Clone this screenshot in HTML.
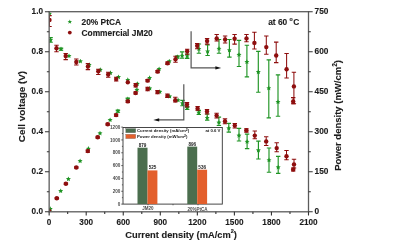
<!DOCTYPE html>
<html><head><meta charset="utf-8"><style>
html,body{margin:0;padding:0;background:#fff;width:393px;height:247px;overflow:hidden}
text{fill:#1c1c1c;stroke:#1c1c1c;stroke-width:0.12px}
text.sm{fill:#4a4a4a;stroke:none}
text.sd{fill:#1a1a1a;stroke:none}
</style></head><body>
<svg width="393" height="247" viewBox="0 0 393 247" style="position:absolute;left:0;top:0;will-change:transform"><defs><clipPath id="pc"><rect x="49.15" y="11.7" width="259.35" height="200.10000000000002"/></clipPath></defs><g clip-path="url(#pc)"><g stroke="#1f9424" stroke-width="1.15" fill="none"><path d="M48.40 37.60H52.80M50.60 37.60V42.20M48.40 42.20H52.80"/><path d="M58.80 48.00H63.20M61.00 48.00V50.20M58.80 50.20H63.20"/><path d="M180.30 100.30H184.70M182.50 100.30V105.70M180.30 105.70H184.70"/><path d="M185.00 106.50H189.40M187.20 106.50V109.50M185.00 109.50H189.40"/><path d="M196.60 110.30H201.00M198.80 110.30V114.50M196.60 114.50H201.00"/><path d="M205.00 114.00H209.40M207.20 114.00V120.20M205.00 120.20H209.40"/><path d="M216.70 117.10H221.10M218.90 117.10V125.50M216.70 125.50H221.10"/><path d="M226.60 123.40H231.00M228.80 123.40V132.10M226.60 132.10H231.00"/><path d="M236.80 128.40H241.20M239.00 128.40V141.00M236.80 141.00H241.20"/><path d="M244.90 134.10H249.30M247.10 134.10V148.60M244.90 148.60H249.30"/><path d="M256.20 141.10H260.60M258.40 141.10V159.00M256.20 159.00H260.60"/><path d="M266.80 148.00H271.20M269.00 148.00V172.20M266.80 172.20H271.20"/><path d="M276.00 156.40H280.40M278.20 156.40V173.30M276.00 173.30H280.40"/><path d="M115.70 110.00H120.10M117.90 110.00V112.20M115.70 112.20H120.10"/><path d="M125.60 98.00H130.00M127.80 98.00V100.20M125.60 100.20H130.00"/><path d="M175.30 55.80H179.70M177.50 55.80V58.00M175.30 58.00H179.70"/><path d="M179.90 51.90H184.30M182.10 51.90V58.20M179.90 58.20H184.30"/><path d="M185.00 54.00H189.40M187.20 54.00V58.40M185.00 58.40H189.40"/><path d="M196.70 44.00H201.10M198.90 44.00V53.20M196.70 53.20H201.10"/><path d="M205.40 44.80H209.80M207.60 44.80V55.50M205.40 55.50H209.80"/><path d="M216.80 39.50H221.20M219.00 39.50V53.20M216.80 53.20H221.20"/><path d="M227.20 39.50H231.60M229.40 39.50V57.10M227.20 57.10H231.60"/><path d="M236.80 40.30H241.20M239.00 40.30V66.50M236.80 66.50H241.20"/><path d="M244.70 45.20H249.10M246.90 45.20V76.80M244.70 76.80H249.10"/><path d="M256.10 51.30H260.50M258.30 51.30V92.20M256.10 92.20H260.50"/><path d="M266.60 59.90H271.00M268.80 59.90V117.90M266.60 117.90H271.00"/><path d="M275.80 74.80H280.20M278.00 74.80V116.20M275.80 116.20H280.20"/></g><g fill="#1f9424"><polygon points="49.50,11.10 50.23,12.69 51.97,12.90 50.69,14.09 51.03,15.80 49.50,14.95 47.97,15.80 48.31,14.09 47.03,12.90 48.77,12.69"/><polygon points="50.60,37.30 51.33,38.89 53.07,39.10 51.79,40.29 52.13,42.00 50.60,41.15 49.07,42.00 49.41,40.29 48.13,39.10 49.87,38.89"/><polygon points="61.00,46.50 61.73,48.09 63.47,48.30 62.19,49.49 62.53,51.20 61.00,50.35 59.47,51.20 59.81,49.49 58.53,48.30 60.27,48.09"/><polygon points="69.00,53.40 69.73,54.99 71.47,55.20 70.19,56.39 70.53,58.10 69.00,57.25 67.47,58.10 67.81,56.39 66.53,55.20 68.27,54.99"/><polygon points="80.40,58.70 81.13,60.29 82.87,60.50 81.59,61.69 81.93,63.40 80.40,62.55 78.87,63.40 79.21,61.69 77.93,60.50 79.67,60.29"/><polygon points="89.20,62.30 89.93,63.89 91.67,64.10 90.39,65.29 90.73,67.00 89.20,66.15 87.67,67.00 88.01,65.29 86.73,64.10 88.47,63.89"/><polygon points="100.30,67.20 101.03,68.79 102.77,69.00 101.49,70.19 101.83,71.90 100.30,71.05 98.77,71.90 99.11,70.19 97.83,69.00 99.57,68.79"/><polygon points="110.50,70.30 111.23,71.89 112.97,72.10 111.69,73.29 112.03,75.00 110.50,74.15 108.97,75.00 109.31,73.29 108.03,72.10 109.77,71.89"/><polygon points="118.50,74.50 119.23,76.09 120.97,76.30 119.69,77.49 120.03,79.20 118.50,78.35 116.97,79.20 117.31,77.49 116.03,76.30 117.77,76.09"/><polygon points="127.80,77.30 128.53,78.89 130.27,79.10 128.99,80.29 129.33,82.00 127.80,81.15 126.27,82.00 126.61,80.29 125.33,79.10 127.07,78.89"/><polygon points="137.30,81.20 138.03,82.79 139.77,83.00 138.49,84.19 138.83,85.90 137.30,85.05 135.77,85.90 136.11,84.19 134.83,83.00 136.57,82.79"/><polygon points="149.80,85.80 150.53,87.39 152.27,87.60 150.99,88.79 151.33,90.50 149.80,89.65 148.27,90.50 148.61,88.79 147.33,87.60 149.07,87.39"/><polygon points="159.80,89.20 160.53,90.79 162.27,91.00 160.99,92.19 161.33,93.90 159.80,93.05 158.27,93.90 158.61,92.19 157.33,91.00 159.07,90.79"/><polygon points="169.70,93.80 170.43,95.39 172.17,95.60 170.89,96.79 171.23,98.50 169.70,97.65 168.17,98.50 168.51,96.79 167.23,95.60 168.97,95.39"/><polygon points="178.10,97.60 178.83,99.19 180.57,99.40 179.29,100.59 179.63,102.30 178.10,101.45 176.57,102.30 176.91,100.59 175.63,99.40 177.37,99.19"/><polygon points="182.50,100.70 183.23,102.29 184.97,102.50 183.69,103.69 184.03,105.40 182.50,104.55 180.97,105.40 181.31,103.69 180.03,102.50 181.77,102.29"/><polygon points="187.20,105.40 187.93,106.99 189.67,107.20 188.39,108.39 188.73,110.10 187.20,109.25 185.67,110.10 186.01,108.39 184.73,107.20 186.47,106.99"/><polygon points="198.80,110.00 199.53,111.59 201.27,111.80 199.99,112.99 200.33,114.70 198.80,113.85 197.27,114.70 197.61,112.99 196.33,111.80 198.07,111.59"/><polygon points="207.20,115.30 207.93,116.89 209.67,117.10 208.39,118.29 208.73,120.00 207.20,119.15 205.67,120.00 206.01,118.29 204.73,117.10 206.47,116.89"/><polygon points="218.90,119.90 219.63,121.49 221.37,121.70 220.09,122.89 220.43,124.60 218.90,123.75 217.37,124.60 217.71,122.89 216.43,121.70 218.17,121.49"/><polygon points="228.80,125.70 229.53,127.29 231.27,127.50 229.99,128.69 230.33,130.40 228.80,129.55 227.27,130.40 227.61,128.69 226.33,127.50 228.07,127.29"/><polygon points="239.00,133.00 239.73,134.59 241.47,134.80 240.19,135.99 240.53,137.70 239.00,136.85 237.47,137.70 237.81,135.99 236.53,134.80 238.27,134.59"/><polygon points="247.10,139.10 247.83,140.69 249.57,140.90 248.29,142.09 248.63,143.80 247.10,142.95 245.57,143.80 245.91,142.09 244.63,140.90 246.37,140.69"/><polygon points="258.40,147.70 259.13,149.29 260.87,149.50 259.59,150.69 259.93,152.40 258.40,151.55 256.87,152.40 257.21,150.69 255.93,149.50 257.67,149.29"/><polygon points="269.00,157.60 269.73,159.19 271.47,159.40 270.19,160.59 270.53,162.30 269.00,161.45 267.47,162.30 267.81,160.59 266.53,159.40 268.27,159.19"/><polygon points="278.20,164.70 278.93,166.29 280.67,166.50 279.39,167.69 279.73,169.40 278.20,168.55 276.67,169.40 277.01,167.69 275.73,166.50 277.47,166.29"/><polygon points="50.30,206.30 51.03,207.89 52.77,208.10 51.49,209.29 51.83,211.00 50.30,210.15 48.77,211.00 49.11,209.29 47.83,208.10 49.57,207.89"/><polygon points="60.70,188.40 61.43,189.99 63.17,190.20 61.89,191.39 62.23,193.10 60.70,192.25 59.17,193.10 59.51,191.39 58.23,190.20 59.97,189.99"/><polygon points="68.40,176.50 69.13,178.09 70.87,178.30 69.59,179.49 69.93,181.20 68.40,180.35 66.87,181.20 67.21,179.49 65.93,178.30 67.67,178.09"/><polygon points="80.10,158.50 80.83,160.09 82.57,160.30 81.29,161.49 81.63,163.20 80.10,162.35 78.57,163.20 78.91,161.49 77.63,160.30 79.37,160.09"/><polygon points="88.40,146.10 89.13,147.69 90.87,147.90 89.59,149.09 89.93,150.80 88.40,149.95 86.87,150.80 87.21,149.09 85.93,147.90 87.67,147.69"/><polygon points="100.00,130.70 100.73,132.29 102.47,132.50 101.19,133.69 101.53,135.40 100.00,134.55 98.47,135.40 98.81,133.69 97.53,132.50 99.27,132.29"/><polygon points="110.10,117.40 110.83,118.99 112.57,119.20 111.29,120.39 111.63,122.10 110.10,121.25 108.57,122.10 108.91,120.39 107.63,119.20 109.37,118.99"/><polygon points="117.90,108.50 118.63,110.09 120.37,110.30 119.09,111.49 119.43,113.20 117.90,112.35 116.37,113.20 116.71,111.49 115.43,110.30 117.17,110.09"/><polygon points="127.80,96.50 128.53,98.09 130.27,98.30 128.99,99.49 129.33,101.20 127.80,100.35 126.27,101.20 126.61,99.49 125.33,98.30 127.07,98.09"/><polygon points="136.90,87.20 137.63,88.79 139.37,89.00 138.09,90.19 138.43,91.90 136.90,91.05 135.37,91.90 135.71,90.19 134.43,89.00 136.17,88.79"/><polygon points="149.60,75.30 150.33,76.89 152.07,77.10 150.79,78.29 151.13,80.00 149.60,79.15 148.07,80.00 148.41,78.29 147.13,77.10 148.87,76.89"/><polygon points="159.10,66.50 159.83,68.09 161.57,68.30 160.29,69.49 160.63,71.20 159.10,70.35 157.57,71.20 157.91,69.49 156.63,68.30 158.37,68.09"/><polygon points="169.30,58.70 170.03,60.29 171.77,60.50 170.49,61.69 170.83,63.40 169.30,62.55 167.77,63.40 168.11,61.69 166.83,60.50 168.57,60.29"/><polygon points="177.50,54.30 178.23,55.89 179.97,56.10 178.69,57.29 179.03,59.00 177.50,58.15 175.97,59.00 176.31,57.29 175.03,56.10 176.77,55.89"/><polygon points="182.10,53.10 182.83,54.69 184.57,54.90 183.29,56.09 183.63,57.80 182.10,56.95 180.57,57.80 180.91,56.09 179.63,54.90 181.37,54.69"/><polygon points="187.20,53.60 187.93,55.19 189.67,55.40 188.39,56.59 188.73,58.30 187.20,57.45 185.67,58.30 186.01,56.59 184.73,55.40 186.47,55.19"/><polygon points="198.90,46.30 199.63,47.89 201.37,48.10 200.09,49.29 200.43,51.00 198.90,50.15 197.37,51.00 197.71,49.29 196.43,48.10 198.17,47.89"/><polygon points="207.60,48.80 208.33,50.39 210.07,50.60 208.79,51.79 209.13,53.50 207.60,52.65 206.07,53.50 206.41,51.79 205.13,50.60 206.87,50.39"/><polygon points="219.00,46.10 219.73,47.69 221.47,47.90 220.19,49.09 220.53,50.80 219.00,49.95 217.47,50.80 217.81,49.09 216.53,47.90 218.27,47.69"/><polygon points="229.40,47.60 230.13,49.19 231.87,49.40 230.59,50.59 230.93,52.30 229.40,51.45 227.87,52.30 228.21,50.59 226.93,49.40 228.67,49.19"/><polygon points="239.00,52.20 239.73,53.79 241.47,54.00 240.19,55.19 240.53,56.90 239.00,56.05 237.47,56.90 237.81,55.19 236.53,54.00 238.27,53.79"/><polygon points="246.90,59.30 247.63,60.89 249.37,61.10 248.09,62.29 248.43,64.00 246.90,63.15 245.37,64.00 245.71,62.29 244.43,61.10 246.17,60.89"/><polygon points="258.30,69.50 259.03,71.09 260.77,71.30 259.49,72.49 259.83,74.20 258.30,73.35 256.77,74.20 257.11,72.49 255.83,71.30 257.57,71.09"/><polygon points="268.80,85.60 269.53,87.19 271.27,87.40 269.99,88.59 270.33,90.30 268.80,89.45 267.27,90.30 267.61,88.59 266.33,87.40 268.07,87.19"/><polygon points="278.00,99.40 278.73,100.99 280.47,101.20 279.19,102.39 279.53,104.10 278.00,103.25 276.47,104.10 276.81,102.39 275.53,101.20 277.27,100.99"/></g><g stroke="#8e0e0e" stroke-width="1.05" fill="none"><path d="M47.30 15.60H51.70M49.50 15.60V26.40M47.30 26.40H51.70"/><path d="M54.30 45.30H58.70M56.50 45.30V51.80M54.30 51.80H58.70"/><path d="M63.50 53.50H67.90M65.70 53.50V59.60M63.50 59.60H67.90"/><path d="M74.10 59.00H78.50M76.30 59.00V65.00M74.10 65.00H78.50"/><path d="M85.70 63.60H90.10M87.90 63.60V69.60M85.70 69.60H90.10"/><path d="M96.10 69.30H100.50M98.30 69.30V74.50M96.10 74.50H100.50"/><path d="M106.00 72.30H110.40M108.20 72.30V77.30M106.00 77.30H110.40"/><path d="M114.00 77.30H118.40M116.20 77.30V80.90M114.00 80.90H118.40"/><path d="M133.50 83.50H137.90M135.70 83.50V87.00M133.50 87.00H137.90"/><path d="M145.40 87.30H149.80M147.60 87.30V90.80M145.40 90.80H149.80"/><path d="M155.30 90.50H159.70M157.50 90.50V93.70M155.30 93.70H159.70"/><path d="M165.20 94.00H169.60M167.40 94.00V97.50M165.20 97.50H169.60"/><path d="M173.10 97.30H177.50M175.30 97.30V102.00M173.10 102.00H177.50"/><path d="M184.80 102.60H189.20M187.00 102.60V107.00M184.80 107.00H189.20"/><path d="M195.40 106.50H199.80M197.60 106.50V110.30M195.40 110.30H199.80"/><path d="M204.80 109.50H209.20M207.00 109.50V114.00M204.80 114.00H209.20"/><path d="M214.40 113.30H218.80M216.60 113.30V117.90M214.40 117.90H218.80"/><path d="M222.80 118.70H227.20M225.00 118.70V123.70M222.80 123.70H227.20"/><path d="M232.60 123.40H237.00M234.80 123.40V128.00M232.60 128.00H237.00"/><path d="M244.20 128.70H248.60M246.40 128.70V132.10M244.20 132.10H248.60"/><path d="M252.60 131.00H257.00M254.80 131.00V138.70M252.60 138.70H257.00"/><path d="M264.00 136.80H268.40M266.20 136.80V145.40M264.00 145.40H268.40"/><path d="M274.50 142.80H278.90M276.70 142.80V151.70M274.50 151.70H278.90"/><path d="M284.30 150.50H288.70M286.50 150.50V159.80M284.30 159.80H288.70"/><path d="M291.80 159.20H296.20M294.00 159.20V168.00M291.80 168.00H296.20"/><path d="M291.00 168.00H295.40M293.20 168.00V171.00M291.00 171.00H295.40"/><path d="M54.60 197.50H59.00M56.80 197.50V199.00M54.60 199.00H59.00"/><path d="M63.70 183.00H68.10M65.90 183.00V184.50M63.70 184.50H68.10"/><path d="M74.10 166.70H78.50M76.30 166.70V168.30M74.10 168.30H78.50"/><path d="M85.60 150.00H90.00M87.80 150.00V152.20M85.60 152.20H90.00"/><path d="M95.50 136.30H99.90M97.70 136.30V138.30M95.50 138.30H99.90"/><path d="M105.50 123.20H109.90M107.70 123.20V125.20M105.50 125.20H109.90"/><path d="M113.90 114.00H118.30M116.10 114.00V116.20M113.90 116.20H118.30"/><path d="M125.60 100.30H130.00M127.80 100.30V102.50M125.60 102.50H130.00"/><path d="M133.40 92.00H137.80M135.60 92.00V94.00M133.40 94.00H137.80"/><path d="M145.40 79.50H149.80M147.60 79.50V81.70M145.40 81.70H149.80"/><path d="M155.40 70.40H159.80M157.60 70.40V72.60M155.40 72.60H159.80"/><path d="M165.30 62.00H169.70M167.50 62.00V64.40M165.30 64.40H169.70"/><path d="M173.30 56.20H177.70M175.50 56.20V62.30M173.30 62.30H177.70"/><path d="M185.00 49.30H189.40M187.20 49.30V54.20M185.00 54.20H189.40"/><path d="M195.00 43.40H199.40M197.20 43.40V48.80M195.00 48.80H199.40"/><path d="M204.90 38.40H209.30M207.10 38.40V44.10M204.90 44.10H209.30"/><path d="M214.50 34.50H218.90M216.70 34.50V41.00M214.50 41.00H218.90"/><path d="M222.90 36.00H227.30M225.10 36.00V43.00M222.90 43.00H227.30"/><path d="M232.40 34.50H236.80M234.60 34.50V44.10M232.40 44.10H236.80"/><path d="M244.30 34.50H248.70M246.50 34.50V41.80M244.30 41.80H248.70"/><path d="M252.20 32.30H256.60M254.40 32.30V49.00M252.20 49.00H256.60"/><path d="M264.10 36.00H268.50M266.30 36.00V54.30M264.10 54.30H268.50"/><path d="M274.00 42.10H278.40M276.20 42.10V62.60M274.00 62.60H278.40"/><path d="M284.40 53.50H288.80M286.60 53.50V77.90M284.40 77.90H288.80"/><path d="M291.70 72.30H296.10M293.90 72.30V103.70M291.70 103.70H296.10"/><path d="M291.00 97.60H295.40M293.20 97.60V103.80M291.00 103.80H295.40"/></g><g fill="#8e0e0e"><circle cx="49.5" cy="20" r="2.2"/><circle cx="56.5" cy="48.3" r="2.2"/><circle cx="65.7" cy="56.0" r="2.2"/><circle cx="76.3" cy="62" r="2.2"/><circle cx="87.9" cy="66.5" r="2.2"/><circle cx="98.3" cy="71.3" r="2.2"/><circle cx="108.2" cy="74.5" r="2.2"/><circle cx="116.2" cy="79.1" r="2.2"/><circle cx="127.8" cy="82.2" r="2.2"/><circle cx="135.7" cy="85.3" r="2.2"/><circle cx="147.6" cy="89" r="2.2"/><circle cx="157.5" cy="92.1" r="2.2"/><circle cx="167.4" cy="95.9" r="2.2"/><circle cx="175.3" cy="100.2" r="2.2"/><circle cx="187" cy="104.6" r="2.2"/><circle cx="197.6" cy="108.4" r="2.2"/><circle cx="207" cy="111.5" r="2.2"/><circle cx="216.6" cy="115.6" r="2.2"/><circle cx="225" cy="121.3" r="2.2"/><circle cx="234.8" cy="125.6" r="2.2"/><circle cx="246.4" cy="130.3" r="2.2"/><circle cx="254.8" cy="135.6" r="2.2"/><circle cx="266.2" cy="141.4" r="2.2"/><circle cx="276.7" cy="148.1" r="2.2"/><circle cx="286.5" cy="156.3" r="2.2"/><circle cx="294.0" cy="164.4" r="2.2"/><circle cx="293.2" cy="169.6" r="2.2"/><circle cx="49.3" cy="211.2" r="2.2"/><circle cx="56.8" cy="198.2" r="2.2"/><circle cx="65.9" cy="183.7" r="2.2"/><circle cx="76.3" cy="167.5" r="2.2"/><circle cx="87.8" cy="151.1" r="2.2"/><circle cx="97.7" cy="137.3" r="2.2"/><circle cx="107.7" cy="124.2" r="2.2"/><circle cx="116.1" cy="115.1" r="2.2"/><circle cx="127.8" cy="101.4" r="2.2"/><circle cx="135.6" cy="93" r="2.2"/><circle cx="147.6" cy="80.6" r="2.2"/><circle cx="157.6" cy="71.5" r="2.2"/><circle cx="167.5" cy="63.2" r="2.2"/><circle cx="175.5" cy="59.2" r="2.2"/><circle cx="187.2" cy="51.3" r="2.2"/><circle cx="197.2" cy="45.8" r="2.2"/><circle cx="207.1" cy="41" r="2.2"/><circle cx="216.7" cy="38.4" r="2.2"/><circle cx="225.1" cy="39.5" r="2.2"/><circle cx="234.6" cy="38.7" r="2.2"/><circle cx="246.5" cy="38.4" r="2.2"/><circle cx="254.4" cy="42.9" r="2.2"/><circle cx="266.3" cy="47.1" r="2.2"/><circle cx="276.2" cy="55.5" r="2.2"/><circle cx="286.6" cy="69.2" r="2.2"/><circle cx="293.9" cy="86.4" r="2.2"/><circle cx="293.2" cy="101.5" r="2.2"/></g></g><rect x="49.15" y="11.7" width="259.35" height="200.10000000000002" fill="none" stroke="#5c5c5c" stroke-width="1.3"/><path d="M49.15 211.8v3.6M67.67 211.8v2.2M86.20 211.8v3.6M104.73 211.8v2.2M123.25 211.8v3.6M141.78 211.8v2.2M160.30 211.8v3.6M178.83 211.8v2.2M197.35 211.8v3.6M215.88 211.8v2.2M234.40 211.8v3.6M252.93 211.8v2.2M271.45 211.8v3.6M289.98 211.8v2.2M308.50 211.8v3.6M49.15 211.80h-4.2M308.5 211.80h4.2M49.15 191.79h-2.3M308.5 191.79h2.3M49.15 171.78h-4.2M308.5 171.78h4.2M49.15 151.77h-2.3M308.5 151.77h2.3M49.15 131.76h-4.2M308.5 131.76h4.2M49.15 111.75h-2.3M308.5 111.75h2.3M49.15 91.74h-4.2M308.5 91.74h4.2M49.15 71.73h-2.3M308.5 71.73h2.3M49.15 51.72h-4.2M308.5 51.72h4.2M49.15 31.71h-2.3M308.5 31.71h2.3M49.15 11.70h-4.2M308.5 11.70h4.2" stroke="#333" stroke-width="1.1" fill="none"/><path d="M191.1 31.2V67.9H216" stroke="#555" stroke-width="1.2" fill="none"/><path d="M221.2 67.9L215.4 66.2V69.6Z" fill="#111"/><path d="M183.8 84.2V119.9H159" stroke="#555" stroke-width="1.2" fill="none"/><path d="M153.3 119.9L159.2 118.2V121.6Z" fill="#111"/><text x="49.15" y="224.6" font-family="&apos;Liberation Sans&apos;, sans-serif" font-weight="bold" font-size="8.2" text-anchor="middle">0</text><text x="86.20" y="224.6" font-family="&apos;Liberation Sans&apos;, sans-serif" font-weight="bold" font-size="8.2" text-anchor="middle">300</text><text x="123.25" y="224.6" font-family="&apos;Liberation Sans&apos;, sans-serif" font-weight="bold" font-size="8.2" text-anchor="middle">600</text><text x="160.30" y="224.6" font-family="&apos;Liberation Sans&apos;, sans-serif" font-weight="bold" font-size="8.2" text-anchor="middle">900</text><text x="197.35" y="224.6" font-family="&apos;Liberation Sans&apos;, sans-serif" font-weight="bold" font-size="8.2" text-anchor="middle">1200</text><text x="234.40" y="224.6" font-family="&apos;Liberation Sans&apos;, sans-serif" font-weight="bold" font-size="8.2" text-anchor="middle">1500</text><text x="271.45" y="224.6" font-family="&apos;Liberation Sans&apos;, sans-serif" font-weight="bold" font-size="8.2" text-anchor="middle">1800</text><text x="308.50" y="224.6" font-family="&apos;Liberation Sans&apos;, sans-serif" font-weight="bold" font-size="8.2" text-anchor="middle">2100</text><text x="43" y="214.00" font-family="&apos;Liberation Sans&apos;, sans-serif" font-weight="bold" font-size="8.2" text-anchor="end">0.0</text><text x="43" y="173.98" font-family="&apos;Liberation Sans&apos;, sans-serif" font-weight="bold" font-size="8.2" text-anchor="end">0.2</text><text x="43" y="133.96" font-family="&apos;Liberation Sans&apos;, sans-serif" font-weight="bold" font-size="8.2" text-anchor="end">0.4</text><text x="43" y="93.94" font-family="&apos;Liberation Sans&apos;, sans-serif" font-weight="bold" font-size="8.2" text-anchor="end">0.6</text><text x="43" y="53.92" font-family="&apos;Liberation Sans&apos;, sans-serif" font-weight="bold" font-size="8.2" text-anchor="end">0.8</text><text x="43" y="13.90" font-family="&apos;Liberation Sans&apos;, sans-serif" font-weight="bold" font-size="8.2" text-anchor="end">1.0</text><text x="314.6" y="214.40" font-family="&apos;Liberation Sans&apos;, sans-serif" font-weight="bold" font-size="8.3">0</text><text x="314.6" y="174.38" font-family="&apos;Liberation Sans&apos;, sans-serif" font-weight="bold" font-size="8.3">150</text><text x="314.6" y="134.36" font-family="&apos;Liberation Sans&apos;, sans-serif" font-weight="bold" font-size="8.3">300</text><text x="314.6" y="94.34" font-family="&apos;Liberation Sans&apos;, sans-serif" font-weight="bold" font-size="8.3">450</text><text x="314.6" y="54.32" font-family="&apos;Liberation Sans&apos;, sans-serif" font-weight="bold" font-size="8.3">600</text><text x="314.6" y="14.30" font-family="&apos;Liberation Sans&apos;, sans-serif" font-weight="bold" font-size="8.3">750</text><text x="181.1" y="237.8" font-family="&apos;Liberation Sans&apos;, sans-serif" font-weight="bold" font-size="9.3" text-anchor="middle">Current density (mA/cm<tspan dy="-4.9" font-size="5.5">2</tspan><tspan dy="4.9">)</tspan></text><text transform="translate(24.9 106.5) rotate(-90)" font-family="&apos;Liberation Sans&apos;, sans-serif" font-weight="bold" font-size="9.9" text-anchor="middle">Cell voltage (V)</text><text transform="translate(340.6 115.4) rotate(-90)" font-family="&apos;Liberation Sans&apos;, sans-serif" font-weight="bold" font-size="9.5" text-anchor="middle">Power density (mW/cm<tspan dy="-4" font-size="6.5">2</tspan><tspan dy="4">)</tspan></text><g fill="#1f9424"><polygon points="69.80,19.40 70.39,20.99 72.08,21.06 70.75,22.11 71.21,23.74 69.80,22.80 68.39,23.74 68.85,22.11 67.52,21.06 69.21,20.99"/></g><circle cx="69.8" cy="32.6" r="1.9" fill="#8e0e0e"/><text x="81.5" y="24.9" font-family="&apos;Liberation Sans&apos;, sans-serif" font-weight="bold" font-size="8.4">20% PtCA</text><text x="81.5" y="35.6" font-family="&apos;Liberation Sans&apos;, sans-serif" font-weight="bold" font-size="8.4">Commercial JM20</text><text x="268.2" y="25.3" font-family="&apos;Liberation Sans&apos;, sans-serif" font-weight="bold" font-size="8.4">at 60 <tspan dy="-4.6" font-size="5.2">o</tspan><tspan dy="4.6" dx="0.4">C</tspan></text><rect x="123.0" y="127.5" width="99.30000000000001" height="76.6" fill="#fff" stroke="#333" stroke-width="0.9"/><rect x="137.5" y="147.70" width="10.0" height="56.40" fill="#4b6e4e"/><rect x="147.5" y="170.41" width="9.9" height="33.69" fill="#e35f2c"/><text x="142.50" y="146.70" font-family="&apos;Liberation Sans&apos;, sans-serif" font-weight="bold" font-size="4.6" class="sd" text-anchor="middle">879</text><text x="152.50" y="169.41" font-family="&apos;Liberation Sans&apos;, sans-serif" font-weight="bold" font-size="4.6" class="sd" text-anchor="middle">525</text><rect x="187.3" y="146.61" width="9.899999999999977" height="57.49" fill="#4b6e4e"/><rect x="197.2" y="169.71" width="9.9" height="34.39" fill="#e35f2c"/><text x="192.25" y="145.61" font-family="&apos;Liberation Sans&apos;, sans-serif" font-weight="bold" font-size="4.6" class="sd" text-anchor="middle">896</text><text x="202.20" y="168.71" font-family="&apos;Liberation Sans&apos;, sans-serif" font-weight="bold" font-size="4.6" class="sd" text-anchor="middle">536</text><text x="120.3" y="205.80" font-family="&apos;Liberation Sans&apos;, sans-serif" font-weight="bold" font-size="4.6" class="sm" text-anchor="end">0</text><text x="120.3" y="192.97" font-family="&apos;Liberation Sans&apos;, sans-serif" font-weight="bold" font-size="4.6" class="sm" text-anchor="end">200</text><text x="120.3" y="180.13" font-family="&apos;Liberation Sans&apos;, sans-serif" font-weight="bold" font-size="4.6" class="sm" text-anchor="end">400</text><text x="120.3" y="167.30" font-family="&apos;Liberation Sans&apos;, sans-serif" font-weight="bold" font-size="4.6" class="sm" text-anchor="end">600</text><text x="120.3" y="154.47" font-family="&apos;Liberation Sans&apos;, sans-serif" font-weight="bold" font-size="4.6" class="sm" text-anchor="end">800</text><text x="120.3" y="141.63" font-family="&apos;Liberation Sans&apos;, sans-serif" font-weight="bold" font-size="4.6" class="sm" text-anchor="end">1000</text><text x="120.3" y="128.80" font-family="&apos;Liberation Sans&apos;, sans-serif" font-weight="bold" font-size="4.6" class="sm" text-anchor="end">1200</text><path d="M123.0 204.10h-1.8M123.0 197.68h-1.1M123.0 191.27h-1.8M123.0 184.85h-1.1M123.0 178.43h-1.8M123.0 172.02h-1.1M123.0 165.60h-1.8M123.0 159.18h-1.1M123.0 152.77h-1.8M123.0 146.35h-1.1M123.0 139.93h-1.8M123.0 133.52h-1.1M123.0 127.10h-1.8M148 204.1v1.2M173 204.1v1.2M198 204.1v1.2" stroke="#333" stroke-width="0.7" fill="none"/><text x="147.9" y="210.3" font-family="&apos;Liberation Sans&apos;, sans-serif" font-weight="bold" font-size="4.5" class="sm" text-anchor="middle">JM20</text><text x="197.6" y="210.5" font-family="&apos;Liberation Sans&apos;, sans-serif" font-weight="bold" font-size="4.5" class="sm" text-anchor="middle">20%PtCA</text><rect x="125.8" y="128.6" width="9.9" height="4.1" fill="#4b6e4e" stroke="#444" stroke-width="0.25"/><rect x="125.8" y="134.3" width="9.9" height="4.3" fill="#e35f2c" stroke="#444" stroke-width="0.25"/><text x="137" y="132.4" font-family="&apos;Liberation Sans&apos;, sans-serif" font-weight="bold" font-size="4.3" class="sd">Current density (mA/cm<tspan dy="-1.5" font-size="3.5">2</tspan><tspan dy="1.5">)</tspan></text><text x="137" y="138.2" font-family="&apos;Liberation Sans&apos;, sans-serif" font-weight="bold" font-size="4.3" class="sd">Power density (mW/cm<tspan dy="-1.5" font-size="3.5">2</tspan><tspan dy="1.5">)</tspan></text><text x="220.5" y="132.4" font-family="&apos;Liberation Sans&apos;, sans-serif" font-weight="bold" font-size="4.3" class="sd" text-anchor="end">at 0.6 V</text></svg>
</body></html>
